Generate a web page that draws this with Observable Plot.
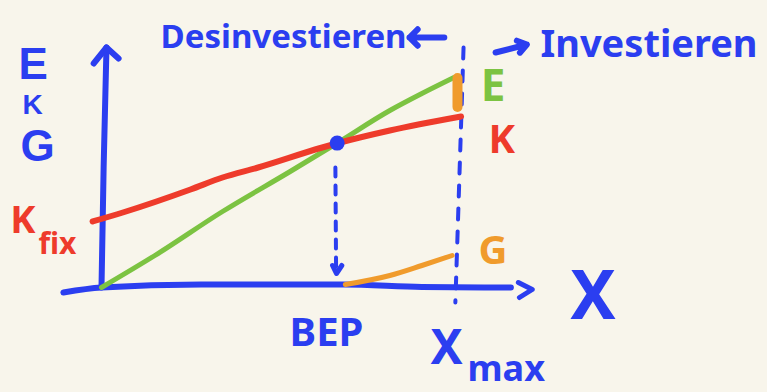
<!DOCTYPE html>
<html>
<head>
<meta charset="utf-8">
<script src="https://cdn.jsdelivr.net/npm/d3@7"></script>
<script src="https://cdn.jsdelivr.net/npm/@observablehq/plot@0.6"></script>
<style>
  html, body { margin: 0; padding: 0; background: #f8f5eb; }
  #chart svg { display: block; }
</style>
</head>
<body>
<div id="chart"></div>
<script>
// ---- Data (quantity x, money values) ----
const eX = [0, 15, 34, 53, 66, 81, 90, 99];          // Erlöse E
const eY = [0, 16, 38, 58, 72, 88.5, 97, 105];
const kX = [-2.5, 6, 25, 34, 44, 62, 66, 81, 101];   // Kosten K
const kY = [33, 37.5, 49, 55, 60, 70, 72, 78.5, 85.5];
const gX = [68.5, 81, 90, 98.5];                      // Gewinn G
const gY = [1.5, 6, 11, 16];
const bep = {x: 66.2, y: 72.2};                       // Break-even point
const xMax = 100;                                     // capacity
const gapAtXmax = [90, 104.5];                        // profit gap at Xmax
const xAxisX = [-10.7, 0, 28, 68, 90, 115];
const xAxisY = [-2.5, 0, 1.5, 1.5, 0.3, 0];
const yAxisX = [0, 0.6, 1.4];
const yAxisY = [0, 60, 120];

const BLUE = "#2b3ef0", RED = "#ee3b2b", GREEN = "#7cc342", ORANGE = "#f09b2c";
const pts = (xs, ys) => xs.map((x, i) => ({x, y: ys[i]}));
const FONT = "Noto Sans";
const FONT2 = "Liberation Sans";

const txt = (label, x, y, color, size, anchor = "start", family = FONT) =>
  Plot.text([{label, x, y}], {x: "x", y: "y", text: "label", fill: color,
    fontSize: size, fontWeight: 700, fontFamily: family, textAnchor: anchor, lineAnchor: "bottom"});

const chart = Plot.plot({
  width: 767, height: 392, margin: 0,
  x: {domain: [-28.37, 187.08], axis: null},
  y: {domain: [-52.5, 143.5], axis: null},
  style: {background: "#f8f5eb", overflow: "visible"},
  marks: [
    // axes
    Plot.line(pts(xAxisX, xAxisY), {x: "x", y: "y", stroke: BLUE, strokeWidth: 6, strokeLinecap: "round", curve: "monotone-x"}),
    Plot.line(pts(yAxisX, yAxisY), {x: "x", y: "y", stroke: BLUE, strokeWidth: 6, strokeLinecap: "round"}),
    Plot.line([{x: -2.2, y: 112}, {x: 1.4, y: 120}, {x: 4.8, y: 114.5}], {x: "x", y: "y", stroke: BLUE, strokeWidth: 6, strokeLinecap: "round", strokeLinejoin: "round"}),
    Plot.line([{x: 117.1, y: 2.5}, {x: 121, y: -1}, {x: 117.4, y: -5}], {x: "x", y: "y", stroke: BLUE, strokeWidth: 5, strokeLinecap: "round", strokeLinejoin: "round"}),
    // dashed guides
    Plot.line([{x: bep.x - 0.5, y: 60}, {x: bep.x - 0.3, y: 8}], {x: "x", y: "y", stroke: BLUE, strokeWidth: 4, strokeDasharray: "9,9", strokeLinecap: "round"}),
    Plot.line([{x: bep.x - 1.3, y: 11}, {x: bep.x - 0.2, y: 7}, {x: bep.x + 1.3, y: 11}], {x: "x", y: "y", stroke: BLUE, strokeWidth: 5, strokeLinecap: "round", strokeLinejoin: "round"}),
    Plot.line([{x: xMax + 1.7, y: 120}, {x: xMax - 0.6, y: -7.5}], {x: "x", y: "y", stroke: BLUE, strokeWidth: 4, strokeDasharray: "11,12", strokeLinecap: "round"}),
    // curves
    Plot.line(pts(eX, eY), {x: "x", y: "y", stroke: GREEN, strokeWidth: 5, strokeLinecap: "round", curve: "monotone-x"}),
    Plot.line(pts(kX, kY), {x: "x", y: "y", stroke: RED, strokeWidth: 6, strokeLinecap: "round", curve: "monotone-x"}),
    Plot.line(pts(gX, gY), {x: "x", y: "y", stroke: ORANGE, strokeWidth: 5, strokeLinecap: "round", curve: "monotone-x"}),
    Plot.ruleX([xMax], {y1: gapAtXmax[0], y2: gapAtXmax[1], stroke: ORANGE, strokeWidth: 10, strokeLinecap: "round"}),
    Plot.dot([bep], {x: "x", y: "y", r: 7.5, fill: BLUE}),
    // arrows next to titles
    Plot.arrow([{x1: 96.3, y1: 125, x2: 86.5, y2: 125}], {x1: "x1", y1: "y1", x2: "x2", y2: "y2", stroke: BLUE, strokeWidth: 6, headLength: 10, headAngle: 90}),
    Plot.arrow([{x1: 110.7, y1: 117.5, x2: 119.5, y2: 121.5}], {x1: "x1", y1: "y1", x2: "x2", y2: "y2", stroke: BLUE, strokeWidth: 6, headLength: 13, headAngle: 70}),
    // texts
    txt("Desinvestieren", 16.6, 120, BLUE, 33),
    txt("Investieren", 123.3, 115.5, BLUE, 38),
    txt("E", -23.3, 104.5, BLUE, 44, "start", FONT2),
    txt("K", -22.2, 87, BLUE, 28, "start", FONT2),
    txt("G", -22.75, 63.5, BLUE, 44, "start", FONT2),
    txt("K", -25.6, 27.5, RED, 38),
    txt("fix", -17.7, 17, RED, 30),
    txt("E", 106.5, 93.5, GREEN, 44),
    txt("K", 108.7, 67.5, RED, 40),
    txt("G", 105.9, 12, ORANGE, 40),
    txt("X", 131.7, -15.5, BLUE, 68),
    txt("BEP", 63.2, -29, BLUE, 40, "middle"),
    txt("X", 92.4, -38, BLUE, 48),
    txt("max", 102.8, -46.5, BLUE, 36)
  ]
});
document.getElementById("chart").append(chart);
</script>
</body>
</html>
